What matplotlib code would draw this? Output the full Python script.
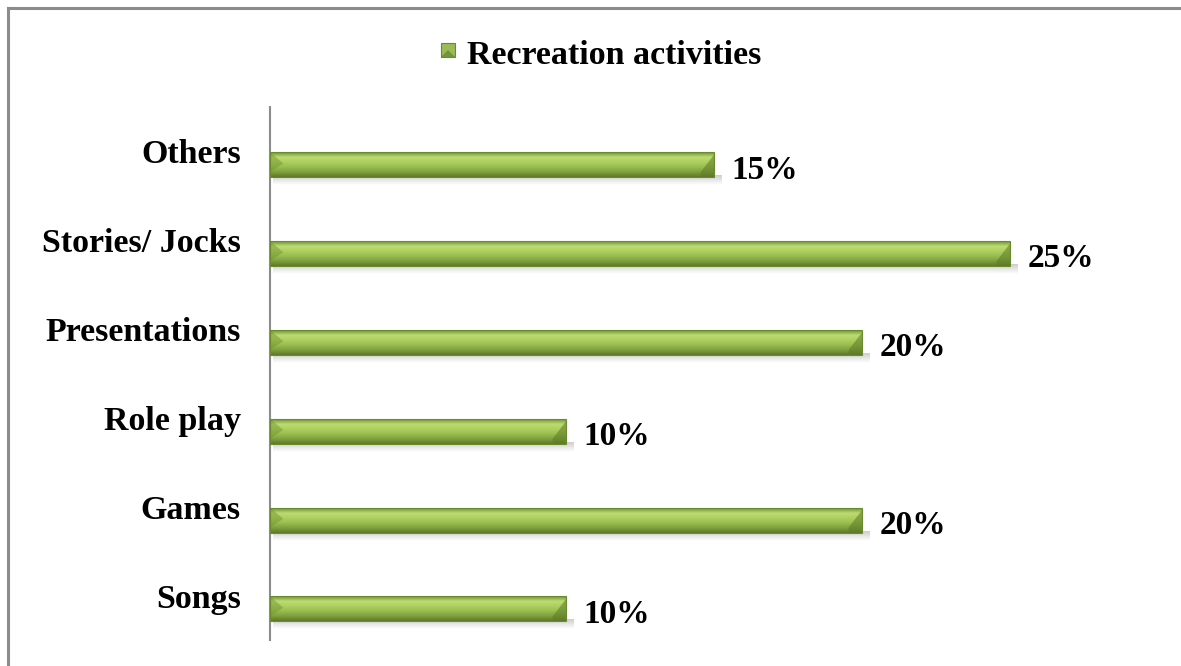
import numpy as np
import matplotlib
matplotlib.use('Agg')
import matplotlib.pyplot as plt
from matplotlib.patches import Rectangle, Polygon
from matplotlib.lines import Line2D

# data (bottom to top as drawn)
categories = ["Songs", "Games", "Role play", "Presentations", "Stories/ Jocks", "Others"]
values = [10, 20, 10, 20, 25, 15]
series_name = "Recreation activities"

plt.rcParams['font.family'] = ['Liberation Serif', 'DejaVu Serif']
plt.rcParams['font.weight'] = 'bold'

fig = plt.figure(figsize=(11.81, 6.66), dpi=100)
ax = fig.add_axes([270 / 1181, 26 / 666, 888 / 1181, 533 / 666])

bar_h = 0.28
offset = 0.15  # bars sit a bit lower than the category centre

# vertical gradient for the bars (top -> bottom)
stops = np.array([
    [0.45, 0.58, 0.22],
    [0.74, 0.86, 0.44],
    [0.68, 0.81, 0.38],
    [0.60, 0.74, 0.31],
    [0.50, 0.63, 0.24],
    [0.38, 0.48, 0.17],
])
t = np.linspace(0, 1, 40)
grad = np.stack([np.interp(t, np.linspace(0, 1, len(stops)), stops[:, c]) for c in range(3)], axis=1)
grad = grad[:, None, :]

shadow = np.zeros((20, 1, 4))
shadow[..., :3] = 0.45
shadow[:, 0, 3] = np.linspace(0.35, 0.0, 20)

cap = 0.45
for i, v in enumerate(values):
    y0 = i - offset - bar_h / 2
    # soft shadow under the bar
    ax.imshow(shadow, extent=[0.1, v + 0.25, y0 - 0.09, y0 + 0.02], aspect='auto',
              origin='upper', zorder=1, interpolation='bilinear')
    ax.imshow(grad, extent=[0, v, y0, y0 + bar_h], aspect='auto', origin='upper',
              zorder=2, interpolation='bilinear')
    # bevelled ends
    ax.add_patch(Polygon([[v, y0], [v, y0 + bar_h * 0.9], [v - cap, y0 + bar_h * 0.2], [v - cap, y0]],
                         closed=True, facecolor='#5d7a26', alpha=0.55, edgecolor='none', zorder=3))
    ax.add_patch(Polygon([[0, y0 + bar_h], [0, y0 + bar_h * 0.2], [cap, y0 + bar_h * 0.55]],
                         closed=True, facecolor='#6f8f30', alpha=0.45, edgecolor='none', zorder=3))
    ax.add_patch(Rectangle((0, y0), v, bar_h, fill=False, edgecolor='#6a8a2e', lw=0.8, zorder=4))
    ax.text(v + 0.58, i - offset - 0.06, f"{v}%", ha='left', va='center',
            fontsize=24, fontweight='bold', color='black')

ax.set_xlim(0, 30)
ax.set_ylim(-0.5, len(categories) - 0.5)
ax.set_yticks(range(len(categories)))
ax.set_yticklabels(categories, fontsize=24.5, fontweight='bold')
ax.tick_params(axis='y', length=0, pad=21)
ax.set_xticks([])
for s in ['top', 'right', 'bottom']:
    ax.spines[s].set_visible(False)
ax.spines['left'].set_color('#8c8c8c')
ax.spines['left'].set_linewidth(1.5)
ax.set_facecolor('none')

# legend (manual: bevelled square + label)
lx, ly, ls = 441 / 1181, 1 - 57 / 666, 14
fig.patches.append(Rectangle((lx, ly), ls / 1181, ls / 666, transform=fig.transFigure,
                             facecolor='#9bbb59', edgecolor='#6a8a2e', lw=0.8))
fig.patches.append(Polygon([[lx, ly], [lx + ls / 1181, ly], [lx + ls / 2362, ly + ls / 1332]],
                           closed=True, transform=fig.transFigure, facecolor='#5d7a26',
                           alpha=0.6, edgecolor='none'))
fig.text(467 / 1181, 1 - 55 / 666, series_name, ha='left', va='center',
         fontsize=24.5, fontweight='bold')

# chart border (top and left only)
fig.lines.append(Line2D([7.5 / 1181, 1], [1 - 7.5 / 666, 1 - 7.5 / 666],
                        transform=fig.transFigure, color='#8c8c8c', lw=2.2))
fig.lines.append(Line2D([7.5 / 1181, 7.5 / 1181], [0, 1 - 7.5 / 666],
                        transform=fig.transFigure, color='#8c8c8c', lw=2.2))

fig.savefig('out.png', dpi=100)
